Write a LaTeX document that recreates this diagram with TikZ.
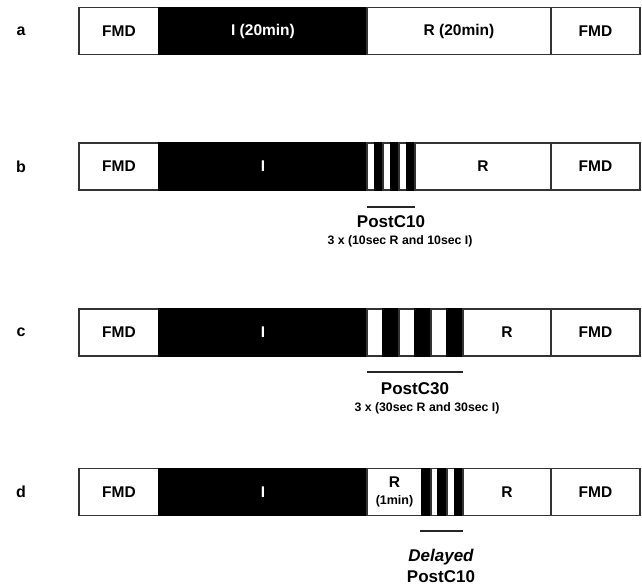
\documentclass[tikz,border=0pt]{standalone}
\usepackage{fontspec}
\setmainfont{Liberation Sans}
\newcommand\seg[6]{\node[#5, minimum width={#3pt-#2pt}] (#1) at ({(#2+#3)/2},#4) {#6};}
\tikzset{
  wseg/.style={draw=black!80, fill=white, line width=1.2pt, minimum height=47pt, inner sep=0pt,
    font=\bfseries\fontsize{15.5}{17}\selectfont, align=center},
  bseg/.style={wseg, fill=black, draw=black, text=white},
  rowlabel/.style={font=\bfseries\fontsize{16}{18}\selectfont},
  underline/.style={line width=2pt, draw=black!85},
  capt/.style={font=\bfseries\fontsize{17}{19}\selectfont},
  subcapt/.style={font=\bfseries\fontsize{12.3}{14}\selectfont}
}
\begin{document}
\begin{tikzpicture}[x=1pt,y=-1pt]
\useasboundingbox (0,0) rectangle (642,585);
% row a
\node[rowlabel] (la) at (21,31) {a};
\seg{a1}{79}{159}{31}{wseg}{FMD}
\seg{a2}{159}{367}{31}{bseg}{I (20min)}
\seg{a3}{367}{551}{31}{wseg}{R (20min)}
\seg{a4}{551}{640}{31}{wseg}{FMD}
% row b
\node[rowlabel] (lb) at (21,166.5) {b};
\seg{b1}{79}{159}{166.5}{wseg}{FMD}
\seg{b2}{159}{367}{166.5}{bseg}{I}
\seg{b3}{367}{375}{166.5}{wseg}{}
\seg{b4}{375}{383}{166.5}{bseg}{}
\seg{b5}{383}{391}{166.5}{wseg}{}
\seg{b6}{391}{399}{166.5}{bseg}{}
\seg{b7}{399}{407}{166.5}{wseg}{}
\seg{b8}{407}{415}{166.5}{bseg}{}
\seg{b9}{415}{551}{166.5}{wseg}{R}
\seg{b10}{551}{640}{166.5}{wseg}{FMD}
\coordinate (bl1) at (367,207); \coordinate (bl2) at (415,207);
\draw[underline] (bl1) -- (bl2);
\node[capt] (bc) at (391,222) {PostC10};
\node[subcapt] (bs) at (400,241) {3 x (10sec R and 10sec I)};
% row c
\node[rowlabel] (lc) at (21,332.5) {c};
\seg{c1}{79}{159}{332.5}{wseg}{FMD}
\seg{c2}{159}{367}{332.5}{bseg}{I}
\seg{c3}{367}{383}{332.5}{wseg}{}
\seg{c4}{383}{399}{332.5}{bseg}{}
\seg{c5}{399}{415}{332.5}{wseg}{}
\seg{c6}{415}{431}{332.5}{bseg}{}
\seg{c7}{431}{447}{332.5}{wseg}{}
\seg{c8}{447}{463}{332.5}{bseg}{}
\seg{c9}{463}{551}{332.5}{wseg}{R}
\seg{c10}{551}{640}{332.5}{wseg}{FMD}
\coordinate (cl1) at (367,372); \coordinate (cl2) at (463,372);
\draw[underline] (cl1) -- (cl2);
\node[capt] (cc) at (415,389) {PostC30};
\node[subcapt] (cs) at (427,408) {3 x (30sec R and 30sec I)};
% row d
\node[rowlabel] (ld) at (21,492) {d};
\seg{d1}{79}{159}{492}{wseg}{FMD}
\seg{d2}{159}{367}{492}{bseg}{I}
\seg{d3}{367}{422}{492}{wseg}{R\\[0pt]{\fontsize{12.5}{14}\selectfont(1min)}}
\seg{d4}{422}{431}{492}{bseg}{}
\seg{d5}{431}{438}{492}{wseg}{}
\seg{d6}{438}{447}{492}{bseg}{}
\seg{d7}{447}{455}{492}{wseg}{}
\seg{d8}{455}{463}{492}{bseg}{}
\seg{d9}{463}{551}{492}{wseg}{R}
\seg{d10}{551}{640}{492}{wseg}{FMD}
\coordinate (dl1) at (420,531); \coordinate (dl2) at (463,531);
\draw[underline] (dl1) -- (dl2);
\node[capt] (dc1) at (441,557) {\itshape Delayed};
\node[capt] (dc2) at (441,577) {PostC10};
\end{tikzpicture}
\end{document}
